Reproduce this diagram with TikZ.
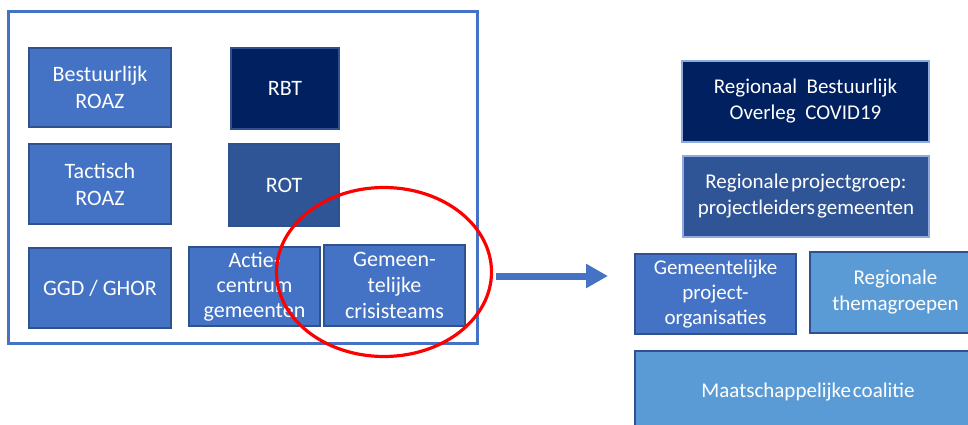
\documentclass[tikz,border=0pt]{standalone}
\usepackage{fontspec}
\setmainfont{Carlito}
\usetikzlibrary{shapes.geometric,arrows.meta}
\definecolor{midblue}{HTML}{4472C4}
\definecolor{navy}{HTML}{002060}
\definecolor{rotblue}{HTML}{2F5597}
\definecolor{lightblue}{HTML}{5B9BD5}
\definecolor{edgeblue}{HTML}{2F528F}
\definecolor{edgelight}{HTML}{8FAADC}
\definecolor{ringred}{HTML}{FF0000}
\tikzset{
  box/.style={rectangle, draw=edgeblue, line width=1.5pt, text=white, align=center, inner sep=0pt,
    font=\fontsize{22}{27}\selectfont},
  rbox/.style={box, font=\fontsize{21}{26}\selectfont},
}
\newcommand{\tsp}{\hspace{2pt}}
\begin{document}
\begin{tikzpicture}[x=1pt,y=-1pt]
\useasboundingbox (0,0) rectangle (968,425);
\clip (0,0) rectangle (968,425);
\fill[white] (0,0) rectangle (968,425);
% left frame
\node[rectangle, draw=midblue, line width=3pt, minimum width=469pt, minimum height=331pt, inner sep=0pt] (frame) at (242.5,177.5) {};
\node[box, fill=midblue, minimum width=142pt, minimum height=79pt] (broaz) at (100,87.5) {Bestuurlijk\\ROAZ};
\node[box, fill=navy, minimum width=108pt, minimum height=81pt] (rbt) at (285,88.5) {RBT};
\node[box, fill=midblue, minimum width=142pt, minimum height=80pt] (troaz) at (100,184) {Tactisch\\ROAZ};
\node[box, fill=rotblue, minimum width=110pt, minimum height=82pt] (rot) at (284,185) {ROT};
\node[box, fill=midblue, minimum width=142pt, minimum height=80pt] (ggd) at (100,288) {GGD / GHOR};
\node[box, fill=midblue, minimum width=131pt, minimum height=79pt, font=\fontsize{22}{25}\selectfont] (acg) at (254.5,286.5) {Actie-\\centrum\\gemeenten};
\node[box, fill=midblue, minimum width=141pt, minimum height=81pt, font=\fontsize{22}{26}\selectfont] (gcr) at (394.5,285.5) {Gemeen-\\telijke\\crisisteams};
% right side
\node[rbox, draw=edgelight, fill=navy, minimum width=247pt, minimum height=81pt] (rboc) at (805.5,101.5) {Regionaal~ Bestuurlijk\\Overleg~ COVID19};
\node[rbox, draw=edgelight, fill=rotblue, minimum width=246pt, minimum height=81pt] (rpg) at (806,196.5) {Regionale\tsp projectgroep:\\projectleiders\tsp gemeenten};
\node[rbox, fill=midblue, minimum width=161pt, minimum height=80pt, font=\fontsize{21}{25}\selectfont] (gpo) at (715.5,294) {Gemeentelijke\\project-\\organisaties};
\node[rbox, fill=lightblue, minimum width=171pt, minimum height=81pt] (rtg) at (895.5,292.5) {Regionale\\themagroepen};
\node[rbox, fill=lightblue, minimum width=346pt, minimum height=82pt] (mc) at (808,392) {Maatschappelijke\tsp coalitie};
% red ring
\node[ellipse, draw=ringred, line width=3.2pt, minimum width=215pt, minimum height=169pt, inner sep=0pt] (ring) at (384,272) {};
% arrow
\coordinate (arrS) at (496,276);
\coordinate (arrE) at (608,276);
\draw[midblue, line width=7pt, -{Triangle[width=23pt,length=22pt]}] (arrS) -- (arrE);
\end{tikzpicture}
\end{document}
